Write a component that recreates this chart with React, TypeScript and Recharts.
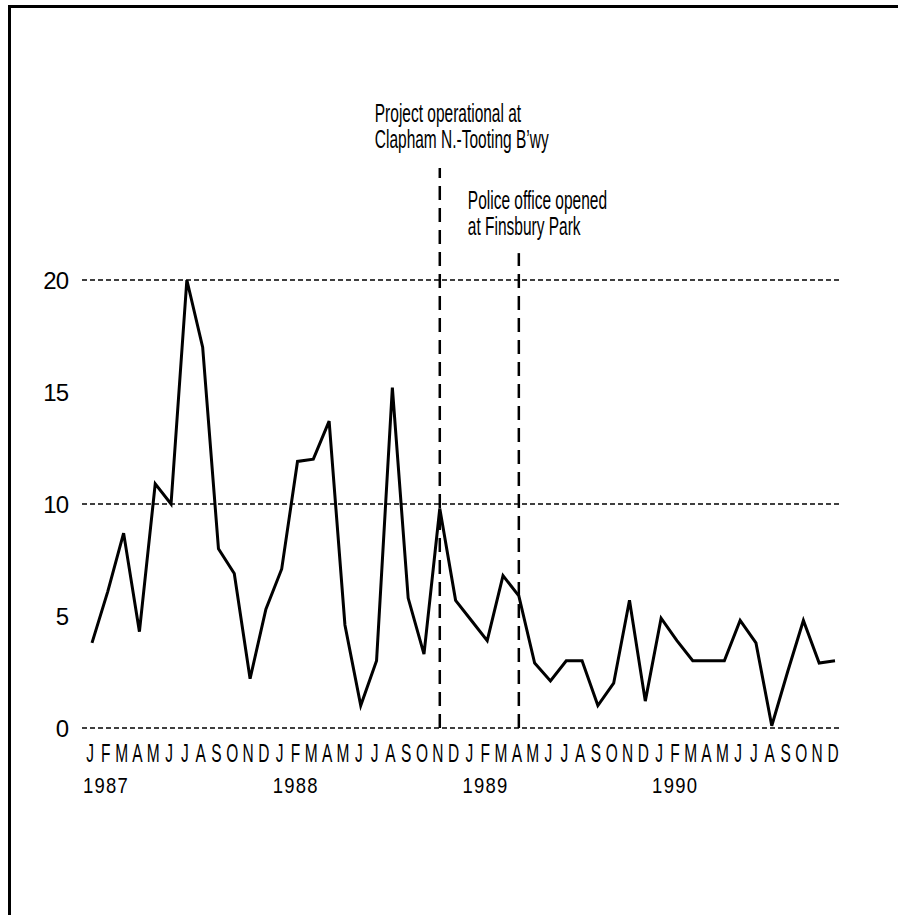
import { LineChart, Line, XAxis, YAxis, ReferenceLine } from 'recharts'

const years = [1987, 1988, 1989, 1990]
const monthLetters = ['J', 'F', 'M', 'A', 'M', 'J', 'J', 'A', 'S', 'O', 'N', 'D']

const values1987 = [3.8, 6.1, 8.7, 4.3, 10.9, 10.0, 20.0, 17.0, 8.0, 6.9, 2.2, 5.3]
const values1988 = [7.1, 11.9, 12.0, 13.7, 4.6, 1.0, 3.0, 15.2, 5.8, 3.3, 9.8, 5.7]
const values1989 = [4.8, 3.9, 6.8, 5.9, 2.9, 2.1, 3.0, 3.0, 1.0, 2.0, 5.7, 1.2]
const values1990 = [4.9, 3.9, 3.0, 3.0, 3.0, 4.8, 3.8, 0.1, 2.5, 4.8, 2.9, 3.0]

const yTicks = [0, 5, 10, 15, 20]
const gridValues = [0, 10, 20]

// vertical event markers: month key, top of dashed line (in y units), label lines
const projectMarker = { key: '1988-10', top: 25, lines: ['Project operational at', 'Clapham N.-Tooting B\u2019wy'] }
const policeMarker = { key: '1989-3', top: 21.2, lines: ['Police office opened', 'at Finsbury Park'] }

const byYear = [values1987, values1988, values1989, values1990]
const data = years.flatMap((yr, i) =>
  byYear[i].map((v, m) => ({ key: `${yr}-${m}`, value: v }))
)

const FONT = '"Liberation Sans", Arial, sans-serif'

// condensed text: the original uses a narrow grotesque, so squeeze a regular sans horizontally
function Narrow({ x, y, size, sx, anchor = 'start', spacing, children }: any) {
  return (
    <g transform={`translate(${x},${y}) scale(${sx},1)`}>
      <text
        x={0}
        y={0}
        fontSize={size}
        fontFamily={FONT}
        textAnchor={anchor}
        letterSpacing={spacing}
        fill="#000"
      >
        {children}
      </text>
    </g>
  )
}

function MonthTick({ x, y, payload }: any) {
  const [yr, m] = String(payload.value).split('-')
  const mi = Number(m)
  return (
    <g>
      <Narrow x={x - 2} y={y + 26} size={25} sx={0.62} anchor="middle">
        {monthLetters[mi]}
      </Narrow>
      {mi === 0 && (
        <Narrow x={x - 9} y={y + 57} size={22} sx={0.84} spacing={1.5}>
          {yr}
        </Narrow>
      )}
    </g>
  )
}

function markerLabel(lines: string[], dx: number, dy: number) {
  return (props: any) => {
    const vb = props.viewBox || {}
    return (
      <g>
        {lines.map((t, i) => (
          <Narrow key={i} x={vb.x + dx} y={vb.y + dy + i * 26} size={25} sx={0.62}>
            {t}
          </Narrow>
        ))}
      </g>
    )
  }
}

export default function App() {
  return (
    <div style={{ position: 'absolute', left: 0, top: 0, width: 898, height: 915, background: '#fff' }}>
      <div
        style={{
          position: 'absolute',
          left: 8,
          top: 5,
          width: 890,
          height: 910,
          borderTop: '3px solid #000',
          borderLeft: '3px solid #000',
          boxSizing: 'border-box',
        }}
      />
      <div style={{ position: 'absolute', left: 0, top: 0 }}>
        <LineChart width={898} height={915} data={data} margin={{ top: 168, right: 58, left: 0, bottom: 127 }}>
          <XAxis
            dataKey="key"
            interval={0}
            axisLine={false}
            tickLine={false}
            padding={{ left: 10, right: 5 }}
            height={60}
            tick={<MonthTick />}
          />
          <YAxis
            domain={[0, 25]}
            ticks={yTicks}
            width={82}
            axisLine={false}
            tickLine={false}
            tickSize={0}
            tickMargin={14}
            tick={{ fontSize: 24, fontFamily: FONT, fill: '#000', letterSpacing: -1 }}
          />
          {gridValues.map((g) => (
            <ReferenceLine key={g} y={g} stroke="#000" strokeWidth={1.5} strokeDasharray="5 3" />
          ))}
          <ReferenceLine
            segment={[
              { x: projectMarker.key, y: 0 },
              { x: projectMarker.key, y: projectMarker.top },
            ]}
            stroke="#000"
            strokeWidth={2.5}
            strokeDasharray="14 8"
            label={markerLabel(projectMarker.lines, -65, -46)}
          />
          <ReferenceLine
            segment={[
              { x: policeMarker.key, y: 0 },
              { x: policeMarker.key, y: policeMarker.top },
            ]}
            stroke="#000"
            strokeWidth={2.5}
            strokeDasharray="14 8"
            label={markerLabel(policeMarker.lines, -51, -44)}
          />
          <Line
            type="linear"
            dataKey="value"
            stroke="#000"
            strokeWidth={3}
            dot={false}
            isAnimationActive={false}
          />
        </LineChart>
      </div>
    </div>
  )
}
